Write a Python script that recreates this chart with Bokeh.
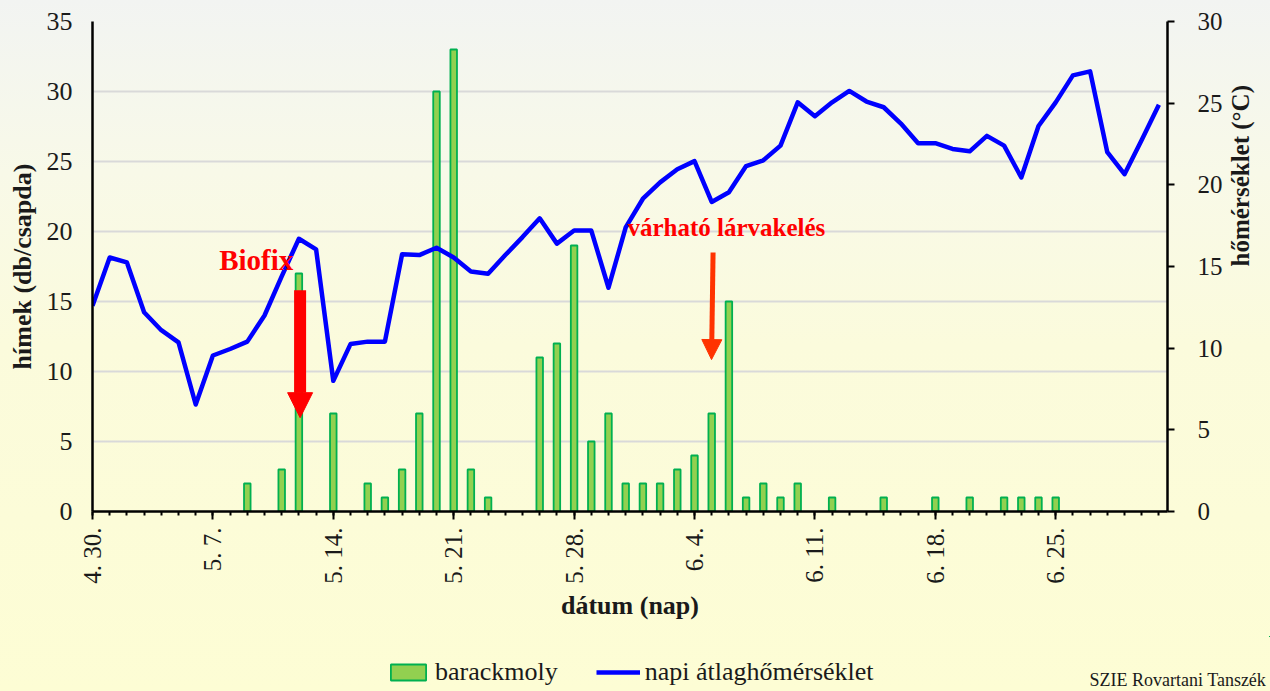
import math
from bokeh.plotting import figure
from bokeh.layouts import column
from bokeh.models import (Range1d, LinearAxis, FixedTicker, SingleIntervalTicker,
                          Arrow, NormalHead, Label, Legend, LegendItem, Grid,
                          ColumnDataSource, GlobalInlineStyleSheet)
from bokeh.embed import file_html
from bokeh.resources import INLINE

# ---------------- data ----------------
# day index 0 = 4.30. (one entry per day up to 7.1.)
day_index = list(range(63))

# barackmoly catches (hímek db/csapda)
counts = [0, 0, 0, 0, 0, 0, 0, 0, 0, 2,
          0, 3, 17, 0, 7, 0, 2, 1, 3, 7,
          30, 33, 3, 1, 0, 0, 11, 12, 19, 5,
          7, 2, 2, 2, 3, 4, 7, 15, 1, 2,
          1, 2, 0, 1, 0, 0, 1, 0, 0, 1,
          0, 1, 0, 1, 1, 1, 1, 0, 0, 0,
          0, 0, 0]

# napi átlaghőmérséklet (°C)
temps = [12.6, 15.55, 15.25, 12.2, 11.1, 10.35, 6.55, 9.55, 9.95, 10.4,
         12.0, 14.4, 16.7, 16.05, 8.0, 10.25, 10.4, 10.4, 15.75, 15.7,
         16.15, 15.55, 14.7, 14.55, 15.7, 16.8, 17.95, 16.4, 17.2, 17.2,
         13.7, 17.4, 19.15, 20.15, 20.95, 21.45, 18.95, 19.55, 21.15, 21.5,
         22.4, 25.05, 24.2, 25.05, 25.75, 25.1, 24.75, 23.75, 22.55, 22.55,
         22.2, 22.05, 23.0, 22.4, 20.45, 23.6, 25.05, 26.7, 26.95, 22.0,
         20.65, 22.75, 24.9]

tick_days = [0, 7, 14, 21, 28, 35, 42, 49, 56]
tick_labels = ["4. 30.", "5. 7.", "5. 14.", "5. 21.", "5. 28.",
               "6. 4.", "6. 11.", "6. 18.", "6. 25."]

series_names = ["barackmoly", "napi átlaghőmérséklet"]

# ---------------- figure ----------------
SERIF = "Liberation Serif"
TXT = "#1a1a1a"
W = 1270

p = figure(width=W, height=636, output_backend="svg", toolbar_location=None,
           x_range=Range1d(0, 62.5), y_range=Range1d(0, 35),
           min_border_left=92, min_border_right=101, min_border_top=21,
           min_border_bottom=125, x_axis_type=None, y_axis_type=None)
p.extra_y_ranges = {"temp": Range1d(0, 30)}

p.background_fill_alpha = 0
p.border_fill_alpha = 0
p.outline_line_color = None
p.stylesheets = [GlobalInlineStyleSheet(css=
    "html{min-height:100%;background:linear-gradient(to bottom,#f2f4f2 0%,#f8f9e8 25%,#fbfbdc 50%,#fdfdd4 100%) fixed;}"
    "body{background:transparent;}")]

# axes
xaxis = LinearAxis(ticker=FixedTicker(ticks=tick_days, minor_ticks=day_index))
xaxis.major_label_overrides = {d: t for d, t in zip(tick_days, tick_labels)}
xaxis.major_label_orientation = math.pi / 2
xaxis.major_label_text_font = SERIF
xaxis.major_label_text_font_size = "25px"
xaxis.major_label_text_color = TXT
xaxis.major_label_standoff = 8
xaxis.major_tick_out = 8
xaxis.major_tick_in = 0
xaxis.minor_tick_out = 4
xaxis.minor_tick_in = 0
xaxis.axis_line_width = 2.5
xaxis.major_tick_line_width = 2
xaxis.minor_tick_line_width = 2
xaxis.axis_label = "dátum (nap)"
xaxis.axis_label_text_font = SERIF
xaxis.axis_label_text_font_style = "bold"
xaxis.axis_label_text_font_size = "26px"
xaxis.axis_label_text_color = TXT
xaxis.axis_label_standoff = 4
p.add_layout(xaxis, "below")

yaxis = LinearAxis(ticker=SingleIntervalTicker(interval=5))
yaxis.major_tick_out = 0
yaxis.major_tick_in = 0
yaxis.minor_tick_out = 0
yaxis.minor_tick_in = 0
yaxis.axis_line_width = 2.5
yaxis.major_label_standoff = 20
yaxis.major_label_text_font = SERIF
yaxis.major_label_text_font_size = "26px"
yaxis.major_label_text_color = TXT
yaxis.axis_label = "hímek (db/csapda)"
yaxis.axis_label_text_font = SERIF
yaxis.axis_label_text_font_style = "bold"
yaxis.axis_label_text_font_size = "26px"
yaxis.axis_label_text_color = TXT
yaxis.axis_label_standoff = 7
p.add_layout(yaxis, "left")

raxis = LinearAxis(y_range_name="temp", ticker=SingleIntervalTicker(interval=5))
raxis.major_tick_out = 7
raxis.major_tick_in = 0
raxis.minor_tick_out = 0
raxis.minor_tick_in = 0
raxis.axis_line_width = 2.5
raxis.major_tick_line_width = 2
raxis.major_label_standoff = 23
raxis.major_label_text_font = SERIF
raxis.major_label_text_font_size = "25px"
raxis.major_label_text_color = TXT
raxis.axis_label = "hőmérséklet (°C)"
raxis.axis_label_text_font = SERIF
raxis.axis_label_text_font_style = "bold"
raxis.axis_label_text_font_size = "25px"
raxis.axis_label_text_color = TXT
raxis.axis_label_standoff = 15
try:
    raxis.axis_label_orientation = math.pi / 2
except Exception:
    pass
p.add_layout(raxis, "right")

# grid (left axis)
grid = Grid(dimension=1, ticker=yaxis.ticker, grid_line_color="#d9d9d9", grid_line_width=2)
p.add_layout(grid)

# bars
bar_days = [d for d, c in zip(day_index, counts) if c > 0]
bar_vals = [c for c in counts if c > 0]
bsrc = ColumnDataSource(dict(x=bar_days, top=bar_vals))
bar_style = dict(fill_color="#92d050", line_color="#00b050", line_width=1.8)
bars = p.vbar(x="x", top="top", width=0.38, bottom=0, source=bsrc, **bar_style)

# temperature line
lsrc = ColumnDataSource(dict(x=day_index, y=temps))
line_style = dict(line_color="#0000ff", line_width=4.5, line_join="round")
line = p.line(x="x", y="y", source=lsrc, y_range_name="temp", **line_style)

# annotations
p.add_layout(Arrow(x_start=12.07, y_start=15.8, x_end=12.07, y_end=6.7,
                   line_color="#ff0000", line_width=12,
                   end=NormalHead(size=25, fill_color="#ff0000", line_color="#ff0000", line_width=1)))
p.add_layout(Arrow(x_start=36.08, y_start=18.5, x_end=35.99, y_end=10.85,
                   line_color="#ff3300", line_width=5,
                   end=NormalHead(size=20, fill_color="#ff3300", line_color="#ff3300", line_width=1)))

p.add_layout(Label(x=9.52, y=16.85, text="Biofix", text_align="center",
                   text_font=SERIF, text_font_style="bold",
                   text_font_size="29px", text_color="#ff0000"))
p.add_layout(Label(x=36.85, y=19.35, text="várható lárvakelés", text_align="center",
                   text_font=SERIF, text_font_style="bold",
                   text_font_size="25px", text_color="#ff0000"))

# ---------------- legend strip ----------------
leg = figure(width=W, height=54, output_backend="svg", toolbar_location=None,
             x_range=Range1d(-1000, -999), y_range=Range1d(-1000, -999),
             min_border=0, min_border_left=0, min_border_right=0,
             min_border_top=0, min_border_bottom=0,
             x_axis_type=None, y_axis_type=None)
leg.background_fill_alpha = 0
leg.border_fill_alpha = 0
leg.outline_line_color = None
frame_x0 = 92
try:
    leg.frame_align = False
    frame_x0 = 0
except Exception:
    pass
lb = leg.vbar(x="x", top="top", width=0.38, bottom=0, source=bsrc, **bar_style)
ll = leg.line(x="x", y="y", source=lsrc, **line_style)

legend = Legend(items=[LegendItem(label=series_names[0], renderers=[lb]),
                       LegendItem(label=series_names[1], renderers=[ll])],
                location=(386 - frame_x0, 3), orientation="horizontal",
                background_fill_alpha=0, border_line_alpha=0,
                label_text_font=SERIF, label_text_font_size="26px",
                label_text_color=TXT,
                glyph_width=44, glyph_height=20, spacing=38, padding=0,
                label_standoff=5, margin=0)
leg.add_layout(legend)

leg.add_layout(Label(x=1089 - frame_x0, y=1, x_units="screen", y_units="screen",
                     text="SZIE Rovartani Tanszék", text_align="left",
                     text_font=SERIF, text_font_size="18px", text_color=TXT))

layout = column(p, leg, spacing=0)
open("out.html", "w").write(file_html(layout, INLINE))
